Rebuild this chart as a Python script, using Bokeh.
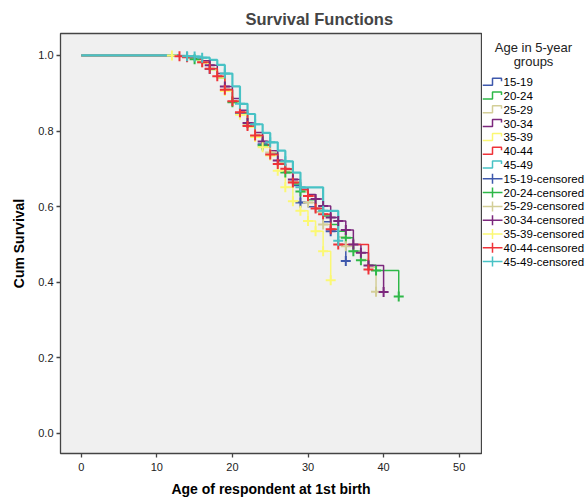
from bokeh.plotting import figure
from bokeh.layouts import row
from bokeh.models import Range1d, FixedTicker, PrintfTickFormatter
from bokeh.core.properties import value
from bokeh.embed import file_html
from bokeh.resources import INLINE

# ---------------- data ----------------
groups = ["15-19", "20-24", "25-29", "30-34", "35-39", "40-44", "45-49"]
colors = ["#3E58AC", "#2EB848", "#D3CE97", "#7C287D", "#FBF873", "#EF3338", "#48C2C5"]

t_1519 = [0, 13, 14, 15, 16, 17, 18, 19, 20, 21, 22, 23, 24, 25, 26, 27, 28, 29, 30, 31, 32, 33, 34, 35]
s_1519 = [1.0, 0.998, 0.994, 0.989, 0.980, 0.964, 0.942, 0.910, 0.879, 0.848, 0.814, 0.789, 0.765,
          0.741, 0.715, 0.690, 0.656, 0.611, 0.600, 0.585, 0.560, 0.535, 0.500, 0.456]
c_1519 = [17, 21, 24, 29, 33, 35]

t_2024 = [0, 13, 14, 15, 16, 17, 18, 19, 20, 21, 22, 23, 24, 25, 26, 27, 28, 29, 30, 31, 32, 33, 34,
          35, 36, 37, 38, 39, 42]
s_2024 = [1.0, 0.998, 0.995, 0.990, 0.981, 0.963, 0.940, 0.908, 0.876, 0.846, 0.812, 0.787, 0.762,
          0.738, 0.712, 0.690, 0.660, 0.640, 0.618, 0.595, 0.575, 0.553, 0.535, 0.518, 0.482, 0.458,
          0.445, 0.431, 0.362]
c_2024 = [15, 20, 24, 27, 29, 35, 36, 37, 39, 42]

t_2529 = [0, 13, 14, 15, 16, 17, 18, 19, 20, 21, 22, 23, 24, 25, 26, 27, 28, 29, 30, 31, 32, 33, 34,
          35, 36, 37, 38, 39]
s_2529 = [1.0, 0.998, 0.995, 0.990, 0.982, 0.966, 0.944, 0.911, 0.880, 0.849, 0.816, 0.791, 0.767,
          0.743, 0.717, 0.694, 0.666, 0.640, 0.611, 0.585, 0.553, 0.540, 0.520, 0.495, 0.480, 0.460,
          0.440, 0.375]
c_2529 = [16, 22, 25, 28, 30, 32, 35, 39]

t_3034 = [0, 13, 14, 15, 16, 17, 18, 19, 20, 21, 22, 23, 24, 25, 26, 27, 28, 29, 30, 31, 32, 33, 34,
          35, 36, 37, 38, 40]
s_3034 = [1.0, 0.999, 0.996, 0.992, 0.986, 0.974, 0.952, 0.918, 0.886, 0.855, 0.821, 0.796, 0.772,
          0.748, 0.722, 0.699, 0.672, 0.650, 0.632, 0.620, 0.602, 0.571, 0.562, 0.538, 0.500, 0.478,
          0.444, 0.374]
c_3034 = [14, 17, 19, 22, 24, 26, 28, 31, 32, 33, 34, 35, 36, 37, 38, 40]

t_3539 = [0, 13, 14, 15, 16, 17, 18, 19, 20, 21, 22, 23, 24, 25, 26, 27, 28, 29, 30, 31, 32, 33]
s_3539 = [1.0, 0.998, 0.994, 0.988, 0.979, 0.962, 0.940, 0.906, 0.874, 0.843, 0.810, 0.784, 0.757,
          0.735, 0.695, 0.651, 0.614, 0.589, 0.562, 0.535, 0.482, 0.405]
c_3539 = [12, 19, 21, 23, 24, 25, 26, 27, 28, 29, 30, 31, 32, 33]

t_4044 = [0, 13, 14, 15, 16, 17, 18, 19, 20, 21, 22, 23, 24, 25, 26, 27, 28, 29, 30, 31, 32, 33, 34, 38]
s_4044 = [1.0, 0.998, 0.995, 0.990, 0.982, 0.965, 0.945, 0.909, 0.879, 0.850, 0.813, 0.788, 0.763,
          0.738, 0.713, 0.700, 0.664, 0.645, 0.628, 0.595, 0.580, 0.540, 0.500, 0.434]
c_4044 = [13, 14, 16, 17, 18, 19, 20, 21, 22, 23, 25, 26, 27, 28, 30, 31, 32, 33, 34, 38]

t_4549 = [0, 13, 14, 15, 16, 17, 18, 19, 20, 21, 22, 23, 24, 25, 26, 27, 28, 29, 32, 34]
s_4549 = [1.0, 0.999, 0.998, 0.997, 0.994, 0.988, 0.975, 0.952, 0.918, 0.872, 0.845, 0.818, 0.795,
          0.770, 0.748, 0.720, 0.690, 0.651, 0.589, 0.510]
c_4549 = [14, 15, 16, 19, 21, 23, 25, 27, 29, 32, 34]

times = [t_1519, t_2024, t_2529, t_3034, t_3539, t_4044, t_4549]
survs = [s_1519, s_2024, s_2529, s_3034, s_3539, s_4044, s_4549]
cens = [c_1519, c_2024, c_2529, c_3034, c_3539, c_4044, c_4549]

x_ticks = [0, 10, 20, 30, 40, 50]
y_ticks = [0.0, 0.2, 0.4, 0.6, 0.8, 1.0]
legend_title = ["Age in 5-year", "groups"]


def step_value(t, s, x):
    v = s[0]
    for ti, si in zip(t, s):
        if ti <= x:
            v = si
    return v


FONT = "Liberation Sans"
H = 502
FRAME_TOP = 33
FRAME_BOTTOM = 453

# ---------------- main plot ----------------
p = figure(width=482, height=H, output_backend="svg", toolbar_location=None,
           x_range=Range1d(-2.74, 52.95), y_range=Range1d(-0.053, 1.058),
           min_border_left=60, min_border_top=FRAME_TOP, min_border_bottom=H - FRAME_BOTTOM,
           min_border_right=1)

p.title.text = "Survival Functions"
p.title.text_font = FONT
p.title.text_font_size = "16.5px"
p.title.text_font_style = "bold"
p.title.align = "left"
p.title.offset = 185
p.title.standoff = 11

p.background_fill_color = "#F0F0F0"
p.border_fill_color = "white"
p.outline_line_color = "#444444"
p.outline_line_width = 1.3
p.xgrid.visible = False
p.ygrid.visible = False

for ax in (p.xaxis[0], p.yaxis[0]):
    ax.axis_line_color = None
    ax.major_tick_line_color = "#444444"
    ax.major_tick_line_width = 1.3
    ax.major_tick_out = 4
    ax.major_tick_in = 0
    ax.minor_tick_out = 0
    ax.minor_tick_in = 0
    ax.major_label_text_font = FONT
    ax.major_label_text_font_size = "11px"
    ax.major_label_text_color = "#222222"
    ax.axis_label_text_font = FONT
    ax.axis_label_text_font_size = "14px"
    ax.axis_label_text_font_style = "bold"
    ax.axis_label_text_color = "black"

p.xaxis.ticker = FixedTicker(ticks=x_ticks)
p.yaxis.ticker = FixedTicker(ticks=y_ticks)
p.yaxis.formatter = PrintfTickFormatter(format="%.1f")
p.xaxis.axis_label = "Age of respondent at 1st birth"
p.yaxis.axis_label = "Cum Survival"
p.xaxis.major_label_standoff = 5
p.xaxis.axis_label_standoff = 7
p.yaxis.major_label_standoff = 3
p.yaxis.axis_label_standoff = 8

n = len(groups)
for i, (col, t, s) in enumerate(zip(colors, times, survs)):
    p.step(t, s, mode="after", line_color=col, line_width=2.2 if i == n - 1 else 1.5)

for col, t, s, c in zip(colors, times, survs, cens):
    cy = [step_value(t, s, x) for x in c]
    p.scatter(c, cy, marker="cross", size=10, line_color=col, line_width=2)

# ---------------- legend panel (frame is aligned with the main plot's frame) ----------------
LW = 103
L = figure(width=LW, height=H, output_backend="svg", toolbar_location=None, title=None,
           x_range=Range1d(0, LW), y_range=Range1d(FRAME_BOTTOM, FRAME_TOP),
           x_axis_location=None, y_axis_location=None,
           min_border_left=0, min_border_right=0, min_border_top=0, min_border_bottom=0)
L.outline_line_color = None
L.background_fill_color = "white"
L.border_fill_color = "white"
L.xgrid.visible = False
L.ygrid.visible = False

L.text(x=[51, 51], y=[46.5, 60.5], text=legend_title, text_align="center",
       text_baseline="middle", text_font=value(FONT), text_font_size=value("13px"),
       text_color="#222222")

row0 = 81.7
row_h = 13.8
labels = []
ys = []
for i, (g, col) in enumerate(zip(groups, colors)):
    yc = row0 + row_h * i
    L.line([0, 10, 10, 19, 19], [yc + 3, yc + 3, yc - 4, yc - 4, yc - 1],
           line_color=col, line_width=1.5)
    labels.append(g)
    ys.append(yc)
for i, (g, col) in enumerate(zip(groups, colors)):
    yc = row0 + row_h * (i + n)
    L.line([0, 20], [yc, yc], line_color=col, line_width=1.5)
    L.line([10, 10], [yc - 5, yc + 5], line_color=col, line_width=1.5)
    labels.append(g + "-censored")
    ys.append(yc)

L.text(x=[21] * len(labels), y=ys, text=labels, text_align="left", text_baseline="middle",
       text_font=value(FONT), text_font_size=value("11.5px"), text_color="black")

layout = row(p, L)
open("out.html", "w").write(file_html(layout, INLINE))
